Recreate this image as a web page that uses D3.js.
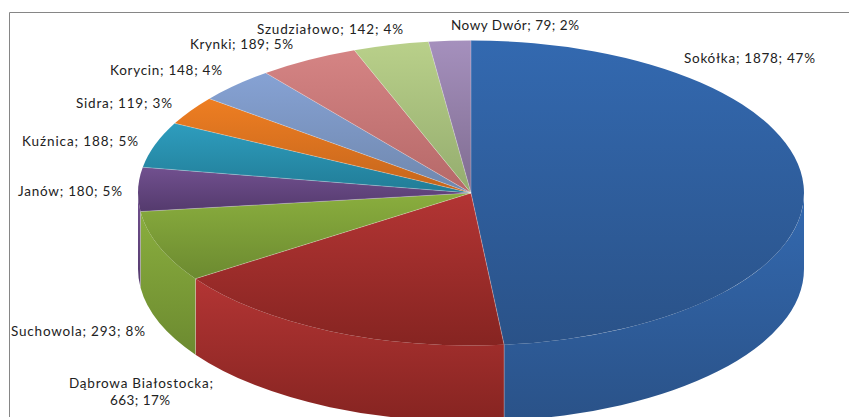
<!DOCTYPE html>
<html>
<head>
<meta charset="utf-8">
<script src="https://cdn.jsdelivr.net/npm/d3@7"></script>
<style>
  html, body { margin: 0; padding: 0; background: #fff; overflow: hidden; }
  svg { display: block; }
  text { font-family: Lato, "Open Sans", sans-serif; fill: #222; }
</style>
</head>
<body>
<svg id="chart"></svg>
<script>
// values
const gminy = ['Sokółka', 'Dąbrowa Białostocka', 'Suchowola', 'Janów', 'Kuźnica', 'Sidra', 'Korycin', 'Krynki', 'Szudziałowo', 'Nowy Dwór'];
const counts = [1878, 663, 293, 180, 188, 119, 148, 189, 142, 79];
const percents = [47, 17, 8, 5, 5, 3, 4, 5, 4, 2];

const topColors = ['#3369b0', '#b33534', '#8aae3e', '#71508f', '#2e9dbe', '#ee7e22', '#86a2d4', '#d58484', '#b9d08a', '#a590bd'];
const bottomColors = ['#2a5288', '#862421', '#6c8a30', '#543a6d', '#217c96', '#c4651c', '#6f87ad', '#b56868', '#94ac6e', '#7f6c90'];

// left edge, baseline and drawn width of each label
const labelPos = [[684, 63], [69, 388], [11, 336], [18, 196], [22, 146], [76, 108], [110, 75], [190, 49], [257, 34], [451, 30]];
const labelWidths = [131, 144, 134, 104, 116, 96, 112, 103, 146, 128];

const width = 849, height = 417;
const cx = 471, cy = 193, rx = 333, ry = 152.5, depth = 76;

const svg = d3.select('#chart').attr('width', width).attr('height', height);
const defs = svg.append('defs');

gminy.forEach((g, i) => {
    const grad = defs.append('linearGradient')
        .attr('id', `grad${i}`)
        .attr('x1', 0).attr('y1', 0).attr('x2', 0).attr('y2', 1);
    grad.append('stop').attr('offset', '0%').attr('stop-color', topColors[i]);
    grad.append('stop').attr('offset', '100%').attr('stop-color', bottomColors[i]);
});

const pie = d3.pie().sort(null).value(d => d);
const slices = pie(counts);

// point on the top ellipse, angle clockwise from 12 o'clock
const ex = a => cx + rx * Math.sin(a);
const ey = a => cy - ry * Math.cos(a);

// side walls, only the front half of the cake shows
const front = slices
    .map((s, i) => ({ i, a0: Math.max(s.startAngle, Math.PI / 2), a1: Math.min(s.endAngle, 3 * Math.PI / 2) }))
    .filter(d => d.a1 > d.a0);

svg.append('g').selectAll('path')
    .data(front)
    .enter()
    .append('path')
    .attr('d', d => `M${ex(d.a0)},${ey(d.a0)}`
        + `A${rx},${ry} 0 0 1 ${ex(d.a1)},${ey(d.a1)}`
        + `L${ex(d.a1)},${ey(d.a1) + depth}`
        + `A${rx},${ry} 0 0 0 ${ex(d.a0)},${ey(d.a0) + depth}Z`)
    .style('fill', d => `url(#grad${d.i})`);

// walls meeting at the front get a thin light seam
svg.append('g').selectAll('line')
    .data(front.slice(1))
    .enter()
    .append('line')
    .attr('x1', d => ex(d.a0)).attr('x2', d => ex(d.a0))
    .attr('y1', d => ey(d.a0)).attr('y2', d => ey(d.a0) + depth)
    .style('stroke', '#fff').style('stroke-opacity', 0.35).style('stroke-width', 0.8);

// top face, a circle pie squashed to an ellipse
const arc = d3.arc().innerRadius(0).outerRadius(rx);
svg.append('g')
    .attr('transform', `translate(${cx},${cy}) scale(1,${ry / rx})`)
    .selectAll('path')
    .data(slices)
    .enter()
    .append('path')
    .attr('d', arc)
    .style('fill', (d, i) => `url(#grad${i})`);

// light lines between slices, spokes only so the rim stays clean
svg.append('g').selectAll('line')
    .data(slices)
    .enter()
    .append('line')
    .attr('x1', cx).attr('y1', cy)
    .attr('x2', d => ex(d.startAngle)).attr('y2', d => ey(d.startAngle))
    .style('stroke', '#fff').style('stroke-opacity', 0.35).style('stroke-width', 0.8);

// frame of the chart area, open on the right
svg.append('path')
    .attr('d', `M849,12.5H9.5V417`)
    .style('fill', 'none')
    .style('stroke', '#868686')
    .style('stroke-width', 1);

const labels = svg.append('g').style('font-size', '13.5px');
gminy.forEach((g, i) => {
    const [x, y] = labelPos[i];
    const w = labelWidths[i];
    if (g === 'Dąbrowa Białostocka') {
        labels.append('text').attr('x', x).attr('y', y).attr('textLength', w).text(`${g};`);
        labels.append('text').attr('x', x + 41).attr('y', y + 17).attr('textLength', 60)
            .text(`${counts[i]}; ${percents[i]}%`);
    } else {
        labels.append('text').attr('x', x).attr('y', y).attr('textLength', w)
            .text(`${g}; ${counts[i]}; ${percents[i]}%`);
    }
});
</script>
</body>
</html>
